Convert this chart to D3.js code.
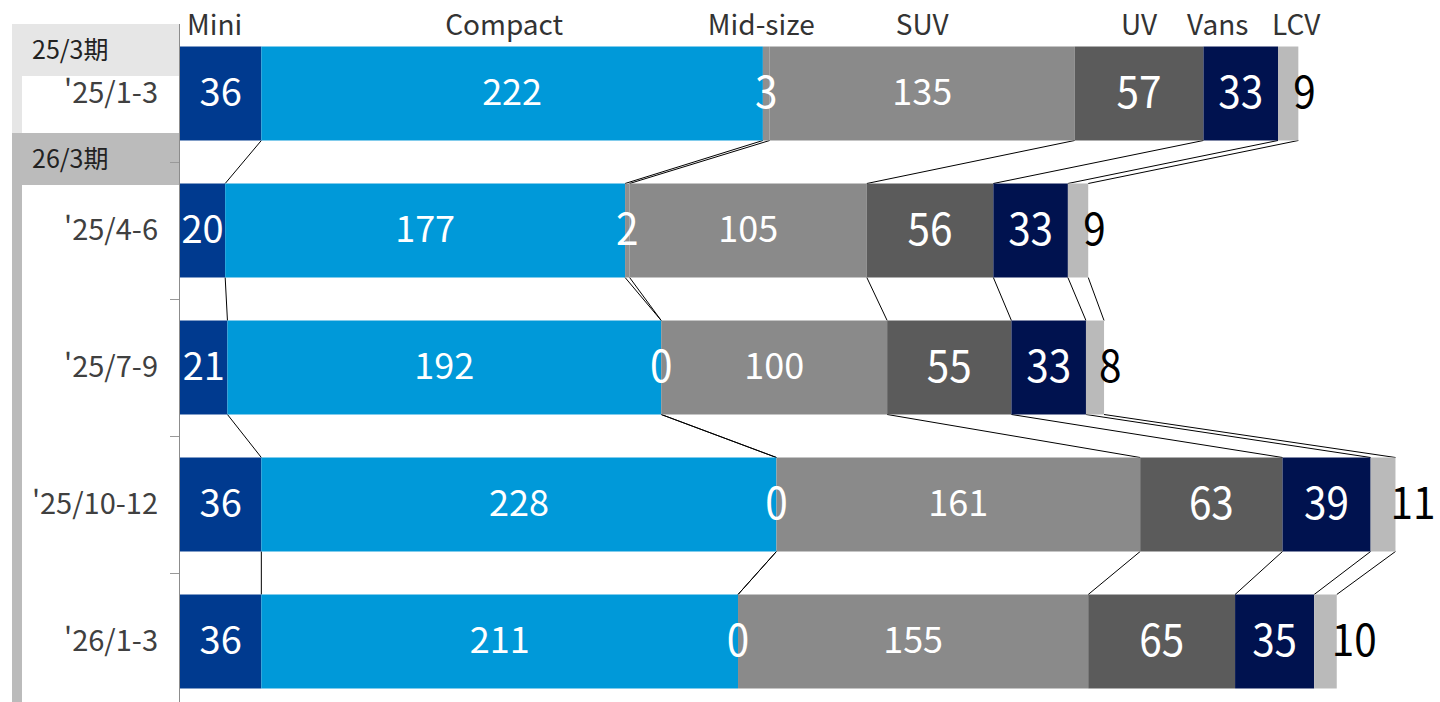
<!DOCTYPE html>
<html lang="ja">
  <head>
    <meta charset="UTF-8">
    <title>Sales by segment</title>
    <script src="https://cdn.jsdelivr.net/npm/d3@7"></script>
    <style>
      body {
        margin: 0;
        background: #fff;
      }

      text {
        font-family: "Noto Sans CJK JP", "Noto Sans", sans-serif;
      }

      .link {
        stroke: #000;
        stroke-width: 1;
        fill: none;
      }
    </style>
  </head>
  <body>
    <svg id="chart"></svg>

    <script>
      // Quarters (rows) and the fiscal-year groups they belong to
      var periods = ["'25/1-3", "'25/4-6", "'25/7-9", "'25/10-12", "'26/1-3"];
      var groupNames = ["25/3期", "26/3期"];

      // Segments, left to right
      var segments = ["Mini", "Compact", "Mid-size", "SUV", "UV", "Vans", "LCV"];

      // Values per segment, one entry per period
      var mini    = [36, 20, 21, 36, 36];
      var compact = [222, 177, 192, 228, 211];
      var midsize = [3, 2, 0, 0, 0];
      var suv     = [135, 105, 100, 161, 155];
      var uv      = [57, 56, 55, 63, 65];
      var vans    = [33, 33, 33, 39, 35];
      var lcv     = [9, 9, 8, 11, 10];

      var seriesValues = [mini, compact, midsize, suv, uv, vans, lcv];

      var colors = ["#003A8F", "#0099D9", "#8F8F8F", "#8A8A8A", "#5B5B5B", "#00124F", "#BABABA"];
      var labelSize = [38, 36, 44, 36, 44, 44, 44];
      var labelSqueeze = [1, 1, 0.92, 1, 0.92, 0.92, 0.92];
      var headerNudge = [-6, -8, -5, 0, 0, -23, 8];

      var width = 1440, height = 702;

      var svg = d3.select("#chart")
        .attr("width", width)
        .attr("height", height);

      // Build a table the stack layout can use
      var table = periods.map(function(p, i) {
        var row = { period: p };
        segments.forEach(function(s, j) { row[s] = seriesValues[j][i]; });
        return row;
      });

      var stacked = d3.stack().keys(segments)(table);

      var x = d3.scaleLinear()
        .domain([0, 540])
        .range([180, 1400]);

      var y = d3.scaleBand()
        .domain(periods)
        .range([25, 710])
        .paddingInner(0.314)
        .paddingOuter(0.157);

      var bw = y.bandwidth();
      var gap = y.step() - bw;

      // Group boxes on the left
      var boxTop = [24, 133];
      var boxFill = ["#E6E6E6", "#BBBBBB"];
      var boxHead = 52;

      groupNames.forEach(function(name, i) {
        var top = boxTop[i];
        var bottom = i + 1 < groupNames.length ? boxTop[i + 1] : height;
        svg.append("rect")
          .attr("x", 12).attr("y", top)
          .attr("width", 167).attr("height", boxHead)
          .attr("fill", boxFill[i]);
        svg.append("rect")
          .attr("x", 12).attr("y", top + boxHead)
          .attr("width", 10).attr("height", bottom - top - boxHead)
          .attr("fill", boxFill[i]);
        svg.append("text")
          .attr("x", 32)
          .attr("y", top + boxHead / 2)
          .attr("dy", "0.36em")
          .attr("font-size", 25)
          .attr("fill", "#222")
          .text(name);
      });

      // Axis line and ticks between the bands
      svg.append("line")
        .attr("x1", 179.5).attr("x2", 179.5)
        .attr("y1", 24).attr("y2", height)
        .attr("stroke", "#8c8c8c");

      periods.slice(1).forEach(function(p) {
        var ty = Math.round(y(p) - gap / 2) + 0.5;
        svg.append("line")
          .attr("x1", 170).attr("x2", 179)
          .attr("y1", ty).attr("y2", ty)
          .attr("stroke", "#999");
      });

      // Period labels
      var yAxis = svg.append("g")
        .attr("transform", "translate(180,0)")
        .call(d3.axisLeft(y).tickSize(0).tickPadding(22));

      yAxis.select(".domain").remove();
      yAxis.selectAll("text")
        .attr("font-size", 29)
        .attr("fill", "#404040")
        .attr("dy", "0.34em")
        .style("font-family", '"Noto Sans CJK JP", sans-serif');

      // Connector lines between consecutive rows
      var links = [];
      stacked.forEach(function(layer) {
        for (var i = 0; i < periods.length - 1; i++) {
          links.push({
            x1: x(layer[i][1]), y1: y(periods[i]) + bw,
            x2: x(layer[i + 1][1]), y2: y(periods[i + 1])
          });
        }
      });

      svg.selectAll(".link")
        .data(links)
        .enter()
        .append("line")
        .attr("class", "link")
        .attr("x1", function(d) { return d.x1; })
        .attr("y1", function(d) { return d.y1; })
        .attr("x2", function(d) { return d.x2; })
        .attr("y2", function(d) { return d.y2; });

      // Bars
      var layers = svg.selectAll(".layer")
        .data(stacked)
        .enter()
        .append("g")
        .attr("class", "layer")
        .attr("fill", function(d, i) { return colors[i]; });

      layers.selectAll("rect")
        .data(function(d) { return d; })
        .enter()
        .append("rect")
        .attr("x", function(d) { return x(d[0]); })
        .attr("y", function(d) { return y(d.data.period); })
        .attr("width", function(d) { return x(d[1]) - x(d[0]); })
        .attr("height", bw);

      // Value labels
      stacked.forEach(function(layer, j) {
        var isLast = j === stacked.length - 1;
        svg.append("g")
          .selectAll("text")
          .data(layer)
          .enter()
          .append("text")
          .attr("transform", function(d) {
            var cx = isLast ? x(d[1]) - 5 : (x(d[0]) + x(d[1])) / 2;
            var cy = y(d.data.period) + bw / 2 - 1;
            return "translate(" + cx + "," + cy + ") scale(" + labelSqueeze[j] + ",1)";
          })
          .attr("text-anchor", isLast ? "start" : "middle")
          .attr("dy", "0.36em")
          .attr("font-size", labelSize[j])
          .attr("fill", isLast ? "#000" : "#fff")
          .text(function(d) { return d.data[layer.key]; });
      });

      // Segment headers above the first row
      svg.append("g")
        .selectAll("text")
        .data(stacked)
        .enter()
        .append("text")
        .attr("x", function(d, i) { return (x(d[0][0]) + x(d[0][1])) / 2 + headerNudge[i]; })
        .attr("y", 35)
        .attr("text-anchor", "middle")
        .attr("font-size", 28)
        .attr("fill", "#333")
        .text(function(d) { return d.key; });
    </script>
  </body>
</html>
